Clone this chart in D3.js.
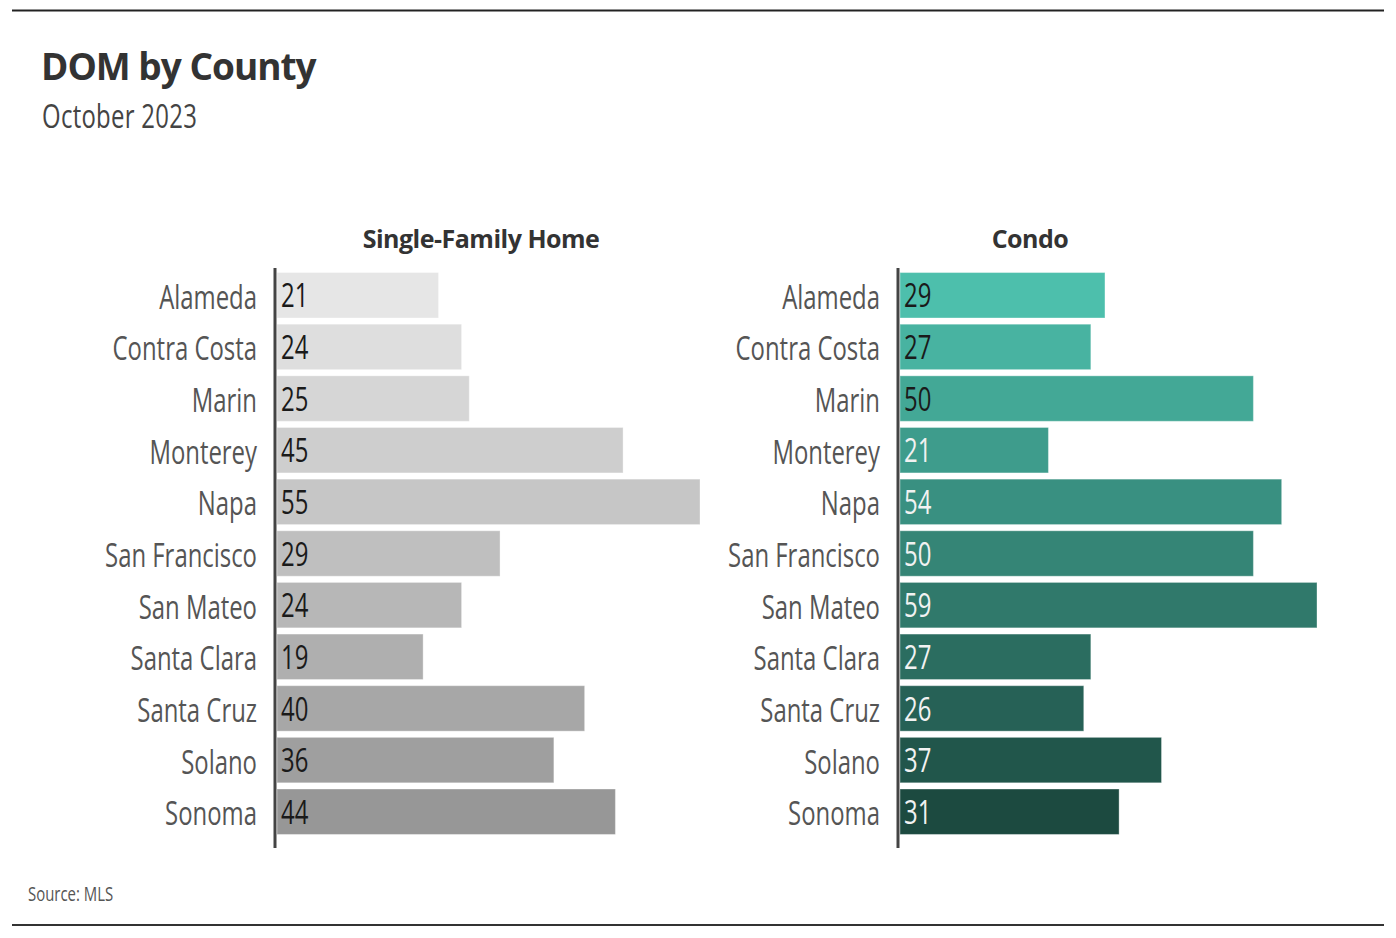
<!DOCTYPE html>
<html>
<head>
<meta charset="utf-8">
<script src="https://cdn.jsdelivr.net/npm/d3@7"></script>
<style>
  body { margin: 0; background: #fff; }
  text { font-family: "Open Sans", sans-serif; }
</style>
</head>
<body>
<script>
var counties = ["Alameda", "Contra Costa", "Marin", "Monterey", "Napa", "San Francisco",
                "San Mateo", "Santa Clara", "Santa Cruz", "Solano", "Sonoma"];
var singleFamily = [21, 24, 25, 45, 55, 29, 24, 19, 40, 36, 44];
var condo = [29, 27, 50, 21, 54, 50, 59, 27, 26, 37, 31];
var panelTitles = ["Single-Family Home", "Condo"];

var W = 1396, H = 938;
var svg = d3.select("body").append("svg")
    .attr("width", W).attr("height", H);

// no narrow font installed, so squeeze a normal one horizontally
var probe = svg.append("text").style("font-size", "32px").text("San Francisco");
var K = 152 / probe.node().getComputedTextLength();
probe.remove();

function narrow(sel) {
    sel.each(function() {
        var t = d3.select(this);
        var x = +t.attr("x") || 0;
        t.attr("x", x / K).attr("transform", "scale(" + K + ",1)");
    });
}

// frame lines
svg.append("line").attr("x1", 12).attr("x2", 1384).attr("y1", 10.5).attr("y2", 10.5)
    .attr("stroke", "#222").attr("stroke-width", 2);
svg.append("line").attr("x1", 12).attr("x2", 1384).attr("y1", 925).attr("y2", 925)
    .attr("stroke", "#333").attr("stroke-width", 2);

svg.append("text").attr("x", 41).attr("y", 80)
    .style("font-weight", "bold").style("font-size", "37px").attr("fill", "#333")
    .attr("letter-spacing", "-1")
    .text("DOM by County");
svg.append("text").attr("x", 42).attr("y", 128)
    .style("font-size", "32px").attr("fill", "#444")
    .attr("letter-spacing", "0.4")
    .text("October 2023").call(narrow);
svg.append("text").attr("x", 28).attr("y", 901)
    .style("font-size", "20px").attr("fill", "#555")
    .text("Source: MLS").call(narrow);

var y = d3.scaleBand().domain(counties).range([271, 836]).paddingInner(0.12).paddingOuter(0.03);

function panel(values, axisX, width, title, titleX, colorA, colorB, darkCount) {
    var x = d3.scaleLinear().domain([0, d3.max(values)]).range([axisX + 2, axisX + 2 + width]);
    var color = d3.scaleLinear().domain([0, counties.length - 1]).range([colorA, colorB]);
    var g = svg.append("g");

    g.append("text").attr("x", titleX).attr("y", 248)
        .attr("text-anchor", "middle")
        .style("font-weight", "bold").style("font-size", "25px").attr("fill", "#333")
        .attr("letter-spacing", "-0.5")
        .text(title);

    g.selectAll("rect").data(values).join("rect")
        .attr("x", x(0))
        .attr("y", function(d, i) { return y(counties[i]); })
        .attr("width", function(d) { return x(d) - x(0); })
        .attr("height", y.bandwidth())
        .attr("fill", function(d, i) { return color(i); })
        .attr("stroke", "rgba(255,255,255,0.35)").attr("stroke-width", 1);

    g.selectAll("text.val").data(values).join("text")
        .attr("class", "val")
        .attr("x", x(0) + 4)
        .attr("y", function(d, i) { return y(counties[i]) + y.bandwidth() / 2; })
        .attr("dy", "0.38em")
        .style("font-size", "32px")
        .attr("fill", function(d, i) { return i < darkCount ? "#1a1a1a" : "#f2f2f2"; })
        .text(function(d) { return d; })
        .call(narrow);

    var axis = d3.axisLeft(y).tickSize(0).tickPadding(18);
    var ag = g.append("g").attr("transform", "translate(" + axisX + ",0)").call(axis);
    ag.select(".domain").remove();
    ag.selectAll("text").style("font-size", "32px").attr("fill", "#555")
        .style("font-family", "'Open Sans', sans-serif")
        .attr("dy", "0.42em")
        .call(narrow);

    g.append("line").attr("x1", axisX).attr("x2", axisX).attr("y1", 268).attr("y2", 848)
        .attr("stroke", "#444").attr("stroke-width", 3);
}

panel(singleFamily, 275, 423, panelTitles[0], 481, "#e6e6e6", "#979797", counties.length);
panel(condo, 898, 417, panelTitles[1], 1030, "#4dbfac", "#1c4a40", 3);
</script>
</body>
</html>
